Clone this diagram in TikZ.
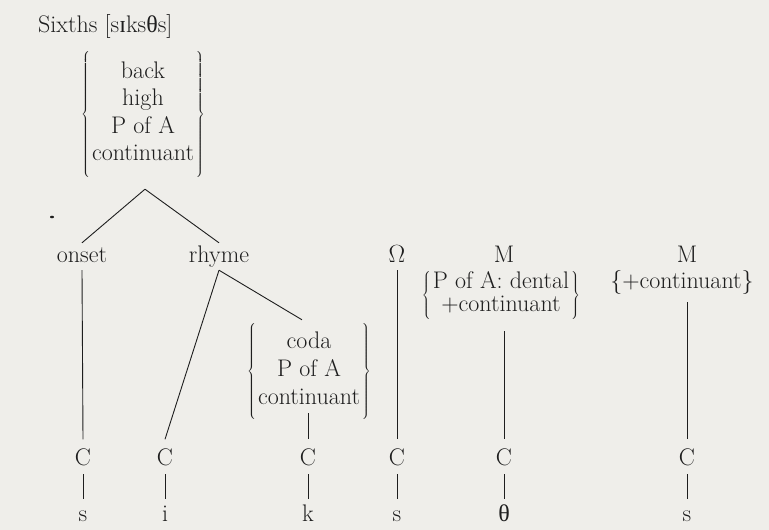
\documentclass[tikz,border=0pt]{standalone}
\usepackage{fontspec}
\newfontfamily\ipafont{Liberation Serif}
\usetikzlibrary{calc}
\definecolor{bg}{HTML}{EFEEEA}
\definecolor{ink}{HTML}{1E1E1E}
\newcommand\featblock[2][5pt]{\delimitershortfall=#1$\left\{\begin{tabular}{@{\hspace{2pt}}c@{\hspace{2pt}}}#2\end{tabular}\right\}$}
\begin{document}
\begin{tikzpicture}[x=1pt,y=-1pt,
  txt/.style={text=ink,font=\fontsize{24}{27}\selectfont,inner sep=0pt},
  tier/.style={txt,anchor=base,text height=17pt,text depth=6pt,inner ysep=2pt},
  seg/.style={txt,anchor=base,text height=16.5pt,text depth=0pt,inner ysep=9pt},
  phon/.style={txt,anchor=base,text height=13pt,text depth=0pt,inner ysep=9pt},
  feat/.style={txt},
  conn/.style={draw=ink,line width=0.9pt}]
\fill[bg] (0,0) rectangle (769,530);
\useasboundingbox (0,0) rectangle (769,530);

% title
\node[txt,anchor=base west] (title) at (38,32) {Sixths [s{\ipafont ɪ}ks{\ipafont θ}s]};

% top feature block
\node[feat] (top) at (143,114) {\fontsize{24}{27.5}\selectfont\featblock[-12pt]{back\\high\\P of A\\continuant}};

% tier labels
\node[tier] (onset) at (82,262) {onset};
\node[tier] (rhyme) at (219,262) {rhyme};
\node[tier] (Om) at (397,262) {$\Omega$};
\node[tier] (M1) at (504,262) {M};
\node[tier] (M2) at (687,262) {M};

% feature blocks under tiers
\node[feat] (coda) at (309,371) {\fontsize{24}{28}\selectfont\featblock[-10pt]{coda\\P of A\\continuant}};
\node[feat] (dental) at (501,295) {\fontsize{24}{23}\selectfont\featblock{P of A: dental\\+continuant}};
\node[txt,anchor=base] (plus) at (682,288) {\textbraceleft+continuant\textbraceright};

% C row
\node[seg] (C1) at (83,465) {C};
\node[seg] (C2) at (165,465) {C};
\node[seg] (C3) at (308,465) {C};
\node[seg] (C4) at (397,465) {C};
\node[seg] (C5) at (504,465) {C};
\node[seg] (C6) at (687,465) {C};

% phonemes
\node[phon] (L1) at (83,521) {s};
\node[phon] (L2) at (165,521) {i};
\node[phon] (L3) at (308,521) {k};
\node[phon] (L4) at (397,521) {s};
\node[phon] (L5) at (504,521) {{\ipafont θ}};
\node[phon] (L6) at (687,521) {s};

% stray dot
\fill[ink] (52,217) ellipse (2pt and 1.3pt);

% connectors
\coordinate (apex) at ($(top.south)+(2,12)$);
\draw[conn] (apex) -- (onset.north);
\draw[conn] (apex) -- (rhyme.north);
\draw[conn] (onset.south) -- (C1.north);
\draw[conn] (rhyme.south) -- (C2.north);
\draw[conn] (rhyme.south) -- ($(coda.north)+(-7,-3)$);
\draw[conn] ($(C3|-coda.south)+(0,-6)$) -- (C3.north);
\draw[conn] (Om.south) -- (C4.north);
\draw[conn] ($(C5|-dental.south)+(0,12)$) -- (C5.north);
\draw[conn] ($(C6|-plus.south)+(0,8)$) -- (C6.north);
\foreach \i in {1,...,6}{\draw[conn] (C\i.south) -- (L\i.north);}
\end{tikzpicture}
\end{document}
